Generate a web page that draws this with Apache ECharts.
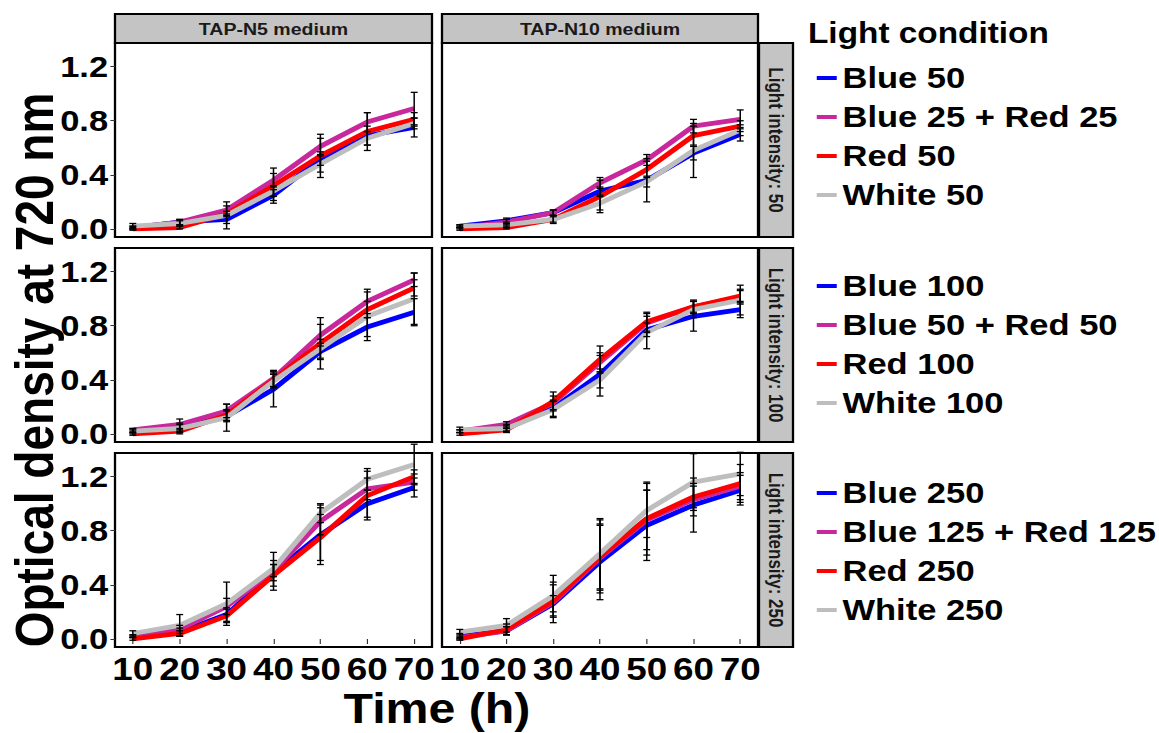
<!DOCTYPE html>
<html>
<head>
<meta charset="utf-8">
<script src="https://cdn.jsdelivr.net/npm/echarts@6/dist/echarts.min.js"></script>
<style>
  html, body { margin: 0; padding: 0; background: #fff; overflow: hidden; }
  #main { height: 733px; transform-origin: 0 0; }
</style>
</head>
<body>
<div id="main"></div>
<script>
// the reference picture is stretched sideways, so draw narrower and stretch back
const SX = 1.15;
const X = v => v / SX;

const time = [10, 20, 30, 40, 50, 60, 70];
const xTicks = [10, 20, 30, 40, 50, 60, 70];
const yTicks = [0, 0.4, 0.8, 1.2];
const mediums = ['TAP-N5 medium', 'TAP-N10 medium'];
const intensities = ['Light intensity: 50', 'Light intensity: 100', 'Light intensity: 250'];
const legend50 = ['Blue 50', 'Blue 25 + Red 25', 'Red 50', 'White 50'];
const legend100 = ['Blue 100', 'Blue 50 + Red 50', 'Red 100', 'White 100'];
const legend250 = ['Blue 250', 'Blue 125 + Red 125', 'Red 250', 'White 250'];
const colors = ['#0000FF', '#C8289B', '#FF0000', '#BEBEBE'];

// rows of each table: Blue, Blue+Red, Red, White
const n5_i50 = [
  [0.01, 0.05, 0.07, 0.25, 0.52, 0.69, 0.75],
  [0.01, 0.05, 0.14, 0.36, 0.61, 0.79, 0.89],
  [0.00, 0.01, 0.11, 0.32, 0.54, 0.72, 0.81],
  [0.02, 0.04, 0.10, 0.28, 0.48, 0.67, 0.78]
];
const n5_i50_sd = [
  [0.01, 0.02, 0.03, 0.04, 0.05, 0.07, 0.07],
  [0.01, 0.02, 0.03, 0.05, 0.06, 0.07, 0.12],
  [0.01, 0.01, 0.02, 0.13, 0.16, 0.14, 0.05],
  [0.02, 0.02, 0.10, 0.04, 0.06, 0.05, 0.04]
];
const n10_i50 = [
  [0.02, 0.06, 0.12, 0.28, 0.36, 0.56, 0.70],
  [0.01, 0.05, 0.12, 0.34, 0.51, 0.76, 0.81],
  [0.00, 0.01, 0.07, 0.24, 0.44, 0.69, 0.76],
  [0.02, 0.03, 0.07, 0.19, 0.35, 0.58, 0.73]
];
const n10_i50_sd = [
  [0.01, 0.02, 0.02, 0.03, 0.16, 0.05, 0.05],
  [0.01, 0.02, 0.02, 0.04, 0.04, 0.05, 0.07],
  [0.01, 0.01, 0.02, 0.12, 0.06, 0.07, 0.04],
  [0.01, 0.02, 0.03, 0.05, 0.04, 0.20, 0.04]
];
const n5_i100 = [
  [0.02, 0.05, 0.13, 0.33, 0.61, 0.79, 0.90],
  [0.03, 0.07, 0.17, 0.41, 0.73, 0.98, 1.14],
  [0.00, 0.02, 0.14, 0.40, 0.67, 0.92, 1.08],
  [0.02, 0.04, 0.12, 0.39, 0.63, 0.87, 1.00]
];
const n5_i100_sd = [
  [0.01, 0.03, 0.04, 0.13, 0.06, 0.07, 0.10],
  [0.01, 0.04, 0.05, 0.06, 0.08, 0.09, 0.05],
  [0.01, 0.02, 0.04, 0.05, 0.19, 0.06, 0.06],
  [0.02, 0.03, 0.10, 0.05, 0.07, 0.18, 0.19]
];
const n10_i100 = [
  [0.02, 0.04, 0.19, 0.44, 0.77, 0.87, 0.92],
  [0.02, 0.07, 0.23, 0.53, 0.82, 0.94, 1.01],
  [0.00, 0.03, 0.24, 0.55, 0.83, 0.94, 1.02],
  [0.03, 0.04, 0.18, 0.40, 0.75, 0.92, 0.99]
];
const n10_i100_sd = [
  [0.01, 0.02, 0.06, 0.16, 0.05, 0.11, 0.06],
  [0.01, 0.02, 0.05, 0.05, 0.07, 0.04, 0.05],
  [0.01, 0.01, 0.07, 0.10, 0.07, 0.05, 0.05],
  [0.02, 0.03, 0.06, 0.06, 0.12, 0.06, 0.11]
];
const n5_i250 = [
  [0.02, 0.05, 0.18, 0.49, 0.77, 1.00, 1.12],
  [0.02, 0.07, 0.24, 0.50, 0.87, 1.11, 1.16],
  [0.00, 0.04, 0.17, 0.47, 0.75, 1.06, 1.20],
  [0.04, 0.10, 0.26, 0.52, 0.93, 1.18, 1.29]
];
const n5_i250_sd = [
  [0.01, 0.03, 0.05, 0.06, 0.22, 0.10, 0.07],
  [0.01, 0.03, 0.06, 0.14, 0.10, 0.08, 0.06],
  [0.01, 0.02, 0.05, 0.08, 0.17, 0.18, 0.05],
  [0.02, 0.08, 0.16, 0.06, 0.07, 0.08, 0.15]
];
const n10_i250 = [
  [0.02, 0.06, 0.26, 0.57, 0.84, 0.99, 1.10],
  [0.01, 0.06, 0.27, 0.60, 0.88, 1.03, 1.13],
  [0.00, 0.07, 0.28, 0.61, 0.89, 1.05, 1.15],
  [0.05, 0.10, 0.32, 0.63, 0.95, 1.16, 1.22]
];
const n10_i250_sd = [
  [0.02, 0.03, 0.06, 0.28, 0.26, 0.20, 0.11],
  [0.01, 0.03, 0.15, 0.24, 0.22, 0.12, 0.10],
  [0.01, 0.04, 0.12, 0.27, 0.27, 0.08, 0.14],
  [0.02, 0.05, 0.15, 0.26, 0.20, 0.21, 0.16]
];

const panels = [
  { row: 0, col: 0, mean: n5_i50, sd: n5_i50_sd },
  { row: 0, col: 1, mean: n10_i50, sd: n10_i50_sd },
  { row: 1, col: 0, mean: n5_i100, sd: n5_i100_sd },
  { row: 1, col: 1, mean: n10_i100, sd: n10_i100_sd },
  { row: 2, col: 0, mean: n5_i250, sd: n5_i250_sd },
  { row: 2, col: 1, mean: n10_i250, sd: n10_i250_sd }
];
const rowNames = [legend50, legend100, legend250];

// layout in reference pixels
const colLeft = [115, 442];
const colWidth = [317, 316];
const rowTop = [43, 248, 453];
const rowH = 194;
const FONT = '"Liberation Sans", Arial, sans-serif';

const el = document.getElementById('main');
el.style.width = (1159 / SX) + 'px';
el.style.transform = 'scaleX(' + SX + ')';
const chart = echarts.init(el, null, { renderer: 'svg' });

const grid = [], xAxis = [], yAxis = [], series = [];
panels.forEach((p, i) => {
  grid.push({
    left: X(colLeft[p.col]), top: rowTop[p.row],
    width: X(colWidth[p.col]), height: rowH,
    show: true, borderColor: '#000', borderWidth: 2, backgroundColor: '#fff'
  });
  xAxis.push({
    gridIndex: i, type: 'value', min: 6.2, max: 73.8,
    splitLine: { show: false }, axisLine: { show: false },
    axisTick: { show: p.row === 2, customValues: xTicks, length: 5, lineStyle: { color: '#333', width: 1 } },
    axisLabel: {
      show: p.row === 2, customValues: xTicks, margin: 6,
      color: '#000', fontSize: 32, fontWeight: 'bold', fontFamily: FONT
    }
  });
  yAxis.push({
    gridIndex: i, type: 'value', min: -0.06, max: 1.375,
    splitLine: { show: false }, axisLine: { show: false },
    axisTick: { show: p.col === 0, customValues: yTicks, length: 4, lineStyle: { color: '#333', width: 1 } },
    axisLabel: {
      show: p.col === 0, customValues: yTicks, margin: 6,
      formatter: v => v.toFixed(1),
      color: '#000', fontSize: 30, fontWeight: 'bold', fontFamily: FONT
    }
  });
  p.mean.forEach((m, k) => {
    series.push({
      type: 'line', name: rowNames[p.row][k],
      xAxisIndex: i, yAxisIndex: i,
      data: time.map((t, j) => [t, m[j]]),
      symbol: 'none', smooth: false, z: 2 + k * 0.1,
      color: colors[k],
      lineStyle: { color: colors[k], width: 4.8 }
    });
  });
  p.mean.forEach((m, k) => {
    series.push({
      type: 'custom', name: rowNames[p.row][k] + ' sd',
      xAxisIndex: i, yAxisIndex: i, z: 5,
      data: time.map((t, j) => [t, m[j] - p.sd[k][j], m[j] + p.sd[k][j]]),
      renderItem: (params, api) => {
        const x = api.value(0);
        const a = api.coord([x, api.value(1)]);
        const b = api.coord([x, api.value(2)]);
        const w = 3;
        const style = { stroke: '#000', lineWidth: 1.3 };
        return {
          type: 'group', children: [
            { type: 'line', shape: { x1: a[0], y1: a[1], x2: b[0], y2: b[1] }, style },
            { type: 'line', shape: { x1: a[0] - w, y1: a[1], x2: a[0] + w, y2: a[1] }, style },
            { type: 'line', shape: { x1: b[0] - w, y1: b[1], x2: b[0] + w, y2: b[1] }, style }
          ]
        };
      }
    });
  });
});

// legends, one block per light intensity
const legendTops = [56, 264, 471];
const legend = rowNames.map((names, r) => ({
  orient: 'vertical', left: X(811), top: legendTops[r],
  data: names, selectedMode: false, itemGap: 5,
  icon: 'rect', itemWidth: X(20), itemHeight: 4,
  textStyle: { color: '#000', fontSize: 30, fontWeight: 'bold', fontFamily: FONT, lineHeight: 34 }
}));

// facet strips and titles
const graphic = [];
mediums.forEach((m, c) => {
  graphic.push({
    type: 'rect', z: 10,
    shape: { x: X(colLeft[c]), y: 14, width: X(colWidth[c]), height: 29 },
    style: { fill: '#C4C4C4', stroke: '#000', lineWidth: 2 }
  });
  graphic.push({
    type: 'text', z: 11, x: X(colLeft[c] + colWidth[c] / 2), y: 29,
    style: {
      text: m, fill: '#1a1a1a', font: 'bold 17px ' + FONT,
      textAlign: 'center', textVerticalAlign: 'middle'
    }
  });
});
intensities.forEach((t, r) => {
  graphic.push({
    type: 'rect', z: 10,
    shape: { x: X(759), y: rowTop[r], width: X(34), height: rowH },
    style: { fill: '#C4C4C4', stroke: '#000', lineWidth: 2 }
  });
  graphic.push({
    type: 'text', z: 11, x: X(776), y: rowTop[r] + rowH / 2, rotation: -Math.PI / 2,
    style: {
      text: t, fill: '#1a1a1a', font: 'bold 17px ' + FONT,
      textAlign: 'center', textVerticalAlign: 'middle'
    }
  });
});
graphic.push({
  type: 'text', x: X(35), y: 370, rotation: Math.PI / 2,
  style: {
    text: 'Optical density at 720 nm', fill: '#000', font: 'bold 46px ' + FONT,
    textAlign: 'center', textVerticalAlign: 'middle'
  }
});
graphic.push({
  type: 'text', x: X(437), y: 709,
  style: {
    text: 'Time (h)', fill: '#000', font: 'bold 42px ' + FONT,
    textAlign: 'center', textVerticalAlign: 'middle'
  }
});
graphic.push({
  type: 'text', x: X(808), y: 33,
  style: {
    text: 'Light condition', fill: '#000', font: 'bold 29px ' + FONT,
    textAlign: 'left', textVerticalAlign: 'middle'
  }
});

chart.setOption({
  animation: false,
  backgroundColor: '#fff',
  grid, xAxis, yAxis, series, legend, graphic
});
</script>
</body>
</html>
